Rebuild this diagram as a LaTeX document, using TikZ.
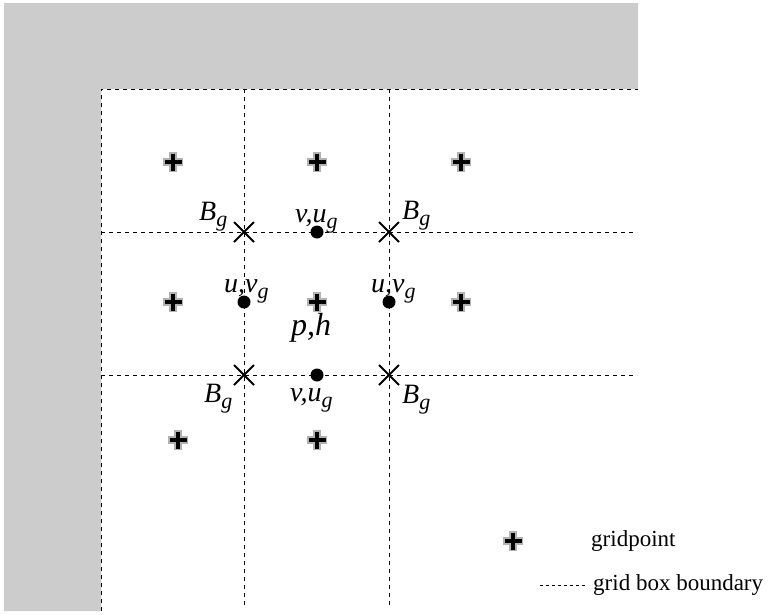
\documentclass[tikz,border=0pt]{standalone}
\usepackage{fontspec}
\setmainfont{Liberation Serif}
\begin{document}
\begin{tikzpicture}[x=1pt,y=-1pt,
  gridline/.style={dash pattern=on 4pt off 4pt,line width=0.8pt},
  lbl/.style={font=\fontsize{28}{30}\selectfont\itshape,inner sep=0pt,anchor=base west},
  txt/.style={font=\fontsize{23}{27}\selectfont,inner sep=0pt,anchor=west},
  gp/.pic={\draw[line width=8pt,gray!60] (-10,0)--(10,0) (0,-10)--(0,10);
           \draw[line width=4pt,black] (-8.5,0)--(8.5,0) (0,-8.5)--(0,8.5);},
  bx/.pic={\draw[line width=1.8pt] (-10,-10)--(10,10) (-10,10)--(10,-10);},
  dt/.pic={\fill (0,0) circle (6.5);}
]
\useasboundingbox (0,0) rectangle (775,614);
% shaded region
\fill[gray!40] (4,3) -- (638,3) -- (638,89) -- (101,89) -- (101,611) -- (4,611) -- cycle;
\draw[gridline] (101,611) -- (101,89) -- (638,89);
% grid box boundaries
\coordinate (h1a) at (101,232); \coordinate (h1b) at (637,232);
\coordinate (h2a) at (101,375); \coordinate (h2b) at (637,375);
\coordinate (v1a) at (244,89);  \coordinate (v1b) at (244,606);
\coordinate (v2a) at (389,89);  \coordinate (v2b) at (389,606);
\draw[gridline] (h1a) -- (h1b);
\draw[gridline] (h2a) -- (h2b);
\draw[gridline] (v1a) -- (v1b);
\draw[gridline] (v2a) -- (v2b);
% gridpoints
\foreach \p in {(173,162),(317,162),(461,162),(173,302),(317,302),(461,302),(178,440),(317,440)}
  \pic at \p {gp};
% corner points
\coordinate (b1) at (244,232); \coordinate (b2) at (389,232);
\coordinate (b3) at (244,375); \coordinate (b4) at (389,375);
\foreach \c in {b1,b2,b3,b4} \pic at (\c) {bx};
% velocity points
\coordinate (d1) at (317,232); \coordinate (d2) at (244,302);
\coordinate (d3) at (389,302); \coordinate (d4) at (317,375);
\foreach \c in {d1,d2,d3,d4} \pic at (\c) {dt};
% labels
\newcommand{\sub}[2]{#1\raisebox{-0.22em}{\fontsize{22}{24}\selectfont #2}}
\node[lbl] (lb1) at (199,220) {\sub{B}{g}};
\node[lbl] (lb2) at (402,219) {\sub{B}{g}};
\node[lbl] (lb3) at (204,402) {\sub{B}{g}};
\node[lbl] (lb4) at (402,403) {\sub{B}{g}};
\node[lbl] (lv1) at (295,222) {\sub{v,u}{g}};
\node[lbl] (lv4) at (290,401) {\sub{v,u}{g}};
\node[lbl] (lu2) at (224,292) {\sub{u,v}{g}};
\node[lbl] (lu3) at (371,292) {\sub{u,v}{g}};
\node[lbl,font=\fontsize{32}{36}\selectfont\itshape] (lph) at (291,335) {p,h};
% legend
\pic at (513,541) {gp};
\node[txt] (lg1) at (591,541) {gridpoint};
\coordinate (ls1) at (540,585); \coordinate (ls2) at (586,585);
\draw[gridline,dash pattern=on 3pt off 3pt] (ls1) -- (ls2);
\node[txt] (lg2) at (593,585) {grid box boundary};
\end{tikzpicture}
\end{document}
